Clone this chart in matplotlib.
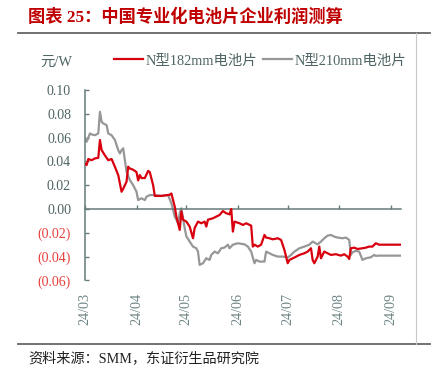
import matplotlib.pyplot as plt
from matplotlib.lines import Line2D

plt.rcParams['font.family'] = ['Liberation Serif', 'Noto Sans CJK SC']
plt.rcParams['axes.unicode_minus'] = False

# days since 2024-03-01
red_day = [0, 1, 2, 4, 6, 8, 9, 10, 12, 14, 16, 18, 20, 22, 23, 25, 26, 27, 29, 31,
           32, 33, 34, 36, 38, 39, 41, 42, 46, 51, 52, 53, 54, 55, 57, 58, 59, 61, 63, 65,
           66, 68, 70, 72, 73, 74, 77, 81, 83, 85, 87, 88, 89, 90, 93, 95, 97, 100, 101, 102,
           104, 106, 108, 109, 111, 113, 116, 118, 120, 122, 123, 126, 129, 132, 134, 136, 137, 138, 140, 141,
           142, 144, 146, 148, 151, 154, 156, 158, 159, 160, 162, 164, 167, 169, 171, 173, 175, 177, 180, 190]
red_val = [0.038, 0.037, 0.042, 0.041, 0.0425, 0.043, 0.058, 0.0495, 0.045, 0.041, 0.042, 0.0355, 0.0285, 0.0145, 0.017, 0.023, 0.0355, 0.034, 0.033, 0.031,
           0.024, 0.0285, 0.026, 0.026, 0.032, 0.031, 0.020, 0.011, 0.011, 0.012, 0.013, 0.0075, 0.002, -0.0064, -0.0176, -0.002, -0.009, -0.0106, -0.0148, -0.0246,
           -0.016, -0.0106, -0.012, -0.0106, -0.0148, -0.009, -0.0078, -0.005, -0.0017, -0.0036, -0.0045, 0.0, -0.019, -0.0106, -0.012, -0.0134, -0.012, -0.014, -0.0316, -0.030,
           -0.0316, -0.030, -0.0218, -0.024, -0.0246, -0.0255, -0.0246, -0.026, -0.0344, -0.0456, -0.0428, -0.0408, -0.0386, -0.0372, -0.0358, -0.033, -0.0428, -0.0456, -0.040, -0.0316,
           -0.0414, -0.0358, -0.0372, -0.0386, -0.038, -0.0392, -0.038, -0.040, -0.042, -0.033, -0.0325, -0.0336, -0.033, -0.0325, -0.0316, -0.0316, -0.0288, -0.030, -0.030, -0.030]

gray_day = [0, 1, 3, 4, 6, 8, 9, 10, 11, 13, 14, 16, 18, 20, 21, 22, 23, 24, 25, 27,
            29, 31, 32, 34, 36, 37, 39, 41, 46, 50, 52, 53, 54, 55, 56, 57, 58, 59, 60, 61,
            63, 65, 67, 68, 69, 71, 73, 75, 76, 78, 80, 82, 84, 86, 87, 89, 92, 96, 98, 100,
            102, 103, 105, 108, 109, 111, 113, 116, 119, 122, 124, 126, 129, 132, 135, 137, 140, 142, 144, 146,
            148, 150, 152, 155, 157, 159, 160, 161, 163, 165, 167, 169, 172, 174, 175, 177, 190]
gray_val = [0.058, 0.0565, 0.0635, 0.0627, 0.062, 0.0635, 0.0817, 0.0733, 0.0719, 0.0705, 0.0635, 0.062, 0.058, 0.0495, 0.0467, 0.0495, 0.051, 0.041, 0.0313, 0.0243,
            0.020, 0.0145, 0.0075, 0.009, 0.0075, 0.0103, 0.0117, 0.0117, 0.011, 0.0117, 0.0048, -0.0008, -0.0064, -0.009, -0.012, -0.0036, 0.0006, -0.0078, -0.016, -0.023,
            -0.0274, -0.0316, -0.033, -0.0358, -0.047, -0.0456, -0.0414, -0.0428, -0.0386, -0.0358, -0.0372, -0.033, -0.0324, -0.030, -0.033, -0.030, -0.0288, -0.0297, -0.0316, -0.0358,
            -0.0456, -0.0428, -0.0442, -0.0442, -0.0358, -0.0372, -0.0386, -0.040, -0.040, -0.0408, -0.0386, -0.0358, -0.033, -0.0316, -0.030, -0.0274, -0.0297, -0.0274, -0.0246, -0.0224,
            -0.0218, -0.0232, -0.024, -0.0246, -0.024, -0.026, -0.0386, -0.0364, -0.0352, -0.0358, -0.0428, -0.0414, -0.0406, -0.0386, -0.0394, -0.0392, -0.0392]

month_day = [0, 31, 61, 92, 122, 153, 184]
month_labels = ['24/03', '24/04', '24/05', '24/06', '24/07', '24/08', '24/09']
y_ticks = [0.10, 0.08, 0.06, 0.04, 0.02, 0.00, -0.02, -0.04, -0.06]

series_names = ['N型182mm电池片', 'N型210mm电池片']

axis_color = '#667b7b'
label_color = '#4f6464'
neg_color = '#e5403c'
red = '#d8000f'
gray = '#979797'

fig = plt.figure(figsize=(4.39, 3.75), dpi=100)
ax = fig.add_axes([0.1936, 0.2523, 0.7192, 0.5077])

ax.plot(red_day, red_val, color=red, lw=1.6, label=series_names[0], zorder=3)
ax.plot(gray_day, gray_val, color=gray, lw=1.6, label=series_names[1], zorder=2)

ax.set_xlim(0, 190)
ax.set_ylim(-0.06, 0.10)

for side in ['top', 'right']:
    ax.spines[side].set_visible(False)
ax.spines['bottom'].set_position(('data', 0))
for side in ['left', 'bottom']:
    ax.spines[side].set_color(axis_color)
    ax.spines[side].set_linewidth(1.1)

ax.set_xticks(month_day)
ax.tick_params(axis='x', direction='in', length=3, width=1, color=axis_color, labelbottom=False)

ax.set_yticks(y_ticks)
ax.set_yticklabels([f'{v:.2f}' if v >= 0 else f'({abs(v):.2f})' for v in y_ticks])
ax.tick_params(axis='y', direction='in', length=3, width=1, color=axis_color, pad=10, labelsize=10)
for lab, v in zip(ax.get_yticklabels(), y_ticks):
    lab.set_color(label_color if v >= 0 else neg_color)

# month labels hang under the plot, while the ticks sit on the zero line
sec = ax.secondary_xaxis('bottom')
sec.set_xticks(month_day, month_labels)
sec.spines['bottom'].set_visible(False)
sec.tick_params(length=0, pad=9, labelrotation=90, labelsize=10.2, labelcolor='#6f8585')

fig.legend(loc='center left', bbox_to_anchor=(114 / 439, 1 - 61 / 375), ncol=2, frameon=False,
           fontsize=10.4, handlelength=2.0, handletextpad=0.2, columnspacing=0.4,
           borderpad=0, borderaxespad=0, labelcolor=label_color)

fig.text(40 / 439, 1 - 62 / 375, '元/W', fontsize=10.4, color=label_color, va='center', ha='left')

fig.text(28 / 439, 1 - 17 / 375, '图表 25：中国专业化电池片企业利润测算', fontsize=12.4,
         color='#c00000', weight='bold', va='center', ha='left')
fig.text(28 / 439, 1 - 358 / 375, '资料来源：SMM，东证衍生品研究院', fontsize=10.2,
         color='#222222', va='center', ha='left')

fig.add_artist(Line2D([18 / 439, 430 / 439], [1 - 33 / 375] * 2, transform=fig.transFigure,
                      color='#666666', lw=1.3))
fig.add_artist(Line2D([18 / 439, 430 / 439], [1 - 344 / 375] * 2, transform=fig.transFigure,
                      color='#666666', lw=1.3))
fig.add_artist(Line2D([416.5 / 439] * 2, [1 - 33 / 375, 1 - 344 / 375], transform=fig.transFigure,
                      color='#c8c8c8', lw=0.8))

fig.savefig('out.png', dpi=100)
